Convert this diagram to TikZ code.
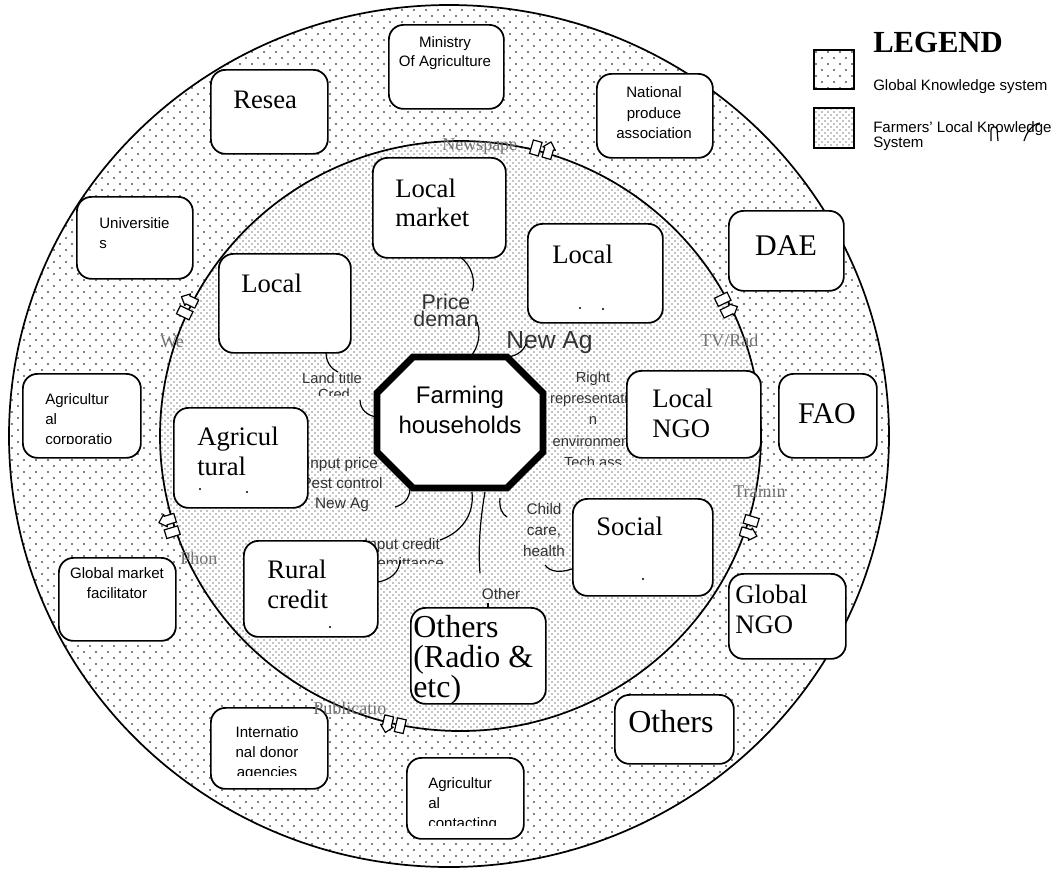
\documentclass[tikz,border=0pt]{standalone}
\usepackage{fontspec}
\setmainfont{Liberation Serif}
\newfontfamily\tms{Liberation Serif}
\newfontfamily\arl{Liberation Sans}
\usetikzlibrary{patterns}
\pgfdeclarepatternformonly{sparsedots}{\pgfqpoint{-1pt}{-1pt}}{\pgfqpoint{10pt}{10pt}}{\pgfqpoint{9pt}{9pt}}{%
  \pgfpathcircle{\pgfqpoint{0pt}{0pt}}{0.6pt}%
  \pgfpathcircle{\pgfqpoint{4.5pt}{4.5pt}}{0.6pt}%
  \pgfusepath{fill}}
\pgfdeclarepatternformonly{densedots}{\pgfqpoint{-1pt}{-1pt}}{\pgfqpoint{5.5pt}{5.5pt}}{\pgfqpoint{4.5pt}{4.5pt}}{%
  \pgfpathcircle{\pgfqpoint{0pt}{0pt}}{0.5pt}%
  \pgfpathcircle{\pgfqpoint{2.25pt}{2.25pt}}{0.5pt}%
  \pgfusepath{fill}}
\tikzset{
  box/.style={draw, line width=1.3pt, rounded corners=11pt, fill=white, inner sep=0pt, anchor=north west},
  ser/.style={font=\tms\fontsize{20}{22}\selectfont, align=left, inner sep=0pt},
  san/.style={font=\arl\fontsize{11.3}{15.2}\selectfont, inner sep=0pt},
  rel/.style={font=\arl\fontsize{11.3}{15.5}\selectfont, text=black!80, inner sep=0pt, align=center},
  mkl/.style={font=\tms\fontsize{13.5}{15}\selectfont, text=black!55, inner sep=0pt, anchor=base west},
  link/.style={line width=0.9pt},
  ring/.style={line width=1.3pt},
  speck/.style={fill=black},
  mk/.pic={
    \draw[line width=0.9pt, fill=white] (-12,-7) rectangle (-3,7);
    \draw[line width=0.9pt, fill=white, line join=round] (1,7) -- (1,-3) -- (-1,-3) -- (5.5,-10) -- (12,-3) -- (10,-3) -- (10,7) -- cycle;
  }
}
\newcommand\bx[5]{\node[box, minimum width={(#4-#2)*0.75pt}, minimum height={(#5-#3)*0.75pt}] (#1) at (#2,#3) {};}
\begin{document}
\lineskiplimit=-30pt
\begin{tikzpicture}[x=0.75pt, y=-0.75pt]
\useasboundingbox (0,0) rectangle (1057,868);
\fill[white] (0,0) rectangle (1057,868);

% knowledge rings
\path[fill=white] (449,436) ellipse [x radius=440, y radius=431];
\path[pattern=sparsedots] (449,436) ellipse [x radius=440, y radius=431];
\draw[ring] (449,436) ellipse [x radius=440, y radius=431];
\path[fill=white] (460.5,436) ellipse [x radius=300.5, y radius=295];
\path[pattern=densedots] (460.5,436) ellipse [x radius=300.5, y radius=295];
\draw[ring] (460.5,436) ellipse [x radius=300.5, y radius=295];

% relation labels
\node[rel, font=\arl\fontsize{16}{13}\selectfont, anchor=north, yshift=12.8pt] (tprice) at (446,309) {\rule{0pt}{12.8pt}Price\\deman};
\node[rel, font=\arl\fontsize{18.5}{20}\selectfont, anchor=base west] (tnewag) at (506,348) {New Ag};
\node[rel, font=\arl\fontsize{11}{15}\selectfont, anchor=base] (tland) at (332,383) {Land title};
\begin{scope}
  \clip (300,386) rectangle (380,395);
  \node[rel, font=\arl\fontsize{11}{15}\selectfont, anchor=base] (tcred) at (334,399) {Cred};
\end{scope}
\begin{scope}
  \clip (530,360) rectangle (660,464);
  \node[rel, font=\arl\fontsize{11}{16}\selectfont, anchor=north, yshift=8.8pt] (tright) at (593,382) {\rule{0pt}{8.8pt}Right\\representatio\\n\\environment\\Tech ass};
\end{scope}
\node[rel, font=\arl\fontsize{11.5}{15}\selectfont, anchor=north, yshift=9.2pt] (tinput) at (342,468) {\rule{0pt}{9.2pt}Input price\\Pest control\\New Ag};
\node[rel, font=\arl\fontsize{11.5}{15}\selectfont, anchor=base] (tcredit) at (402,549) {Input credit};
\begin{scope}
  \clip (360,551) rectangle (460,563);
  \node[rel, font=\arl\fontsize{11.5}{15}\selectfont, anchor=base] (tremit) at (408,568) {remittance};
\end{scope}
\node[rel, font=\arl\fontsize{11.5}{16}\selectfont, anchor=north, yshift=9.2pt] (tchild) at (544,514) {\rule{0pt}{9.2pt}Child\\care,\\health};
\node[rel, font=\arl\fontsize{11.5}{15}\selectfont, anchor=base] (tother) at (501,599) {Other};

% global (outer) boxes
\bx{min}{388}{24}{503}{108}
\node[san, align=center, anchor=north, yshift=9pt, font=\arl\fontsize{11.3}{14.3}\selectfont] (tmin) at (445,47) {\rule{0pt}{9pt}Ministry\\Of Agriculture};
\bx{res}{210}{69}{327}{153}
\node[ser, anchor=base west] (tres) at (233,108) {Resea};
\bx{nat}{596}{73}{712}{157}
\node[san, align=center, anchor=north, yshift=9pt] (tnat) at (654,97.5) {\rule{0pt}{9pt}National\\produce\\association};
\bx{uni}{76}{196}{192}{278}
\node[san, align=left, anchor=north west, yshift=9pt] (tuni) at (99,228) {\rule{0pt}{9pt}Universitie\\s};
\bx{dae}{728}{210}{843}{290}
\node[font=\tms\fontsize{22.5}{24}\selectfont, inner sep=0pt, anchor=base] (tdae) at (786,255) {DAE};
\bx{cor}{22}{373}{140}{457}
\begin{scope}
  \clip (30,380) rectangle (135,443);
  \node[san, align=left, anchor=north west, yshift=9pt] (tcor) at (45,404) {\rule{0pt}{9pt}Agricultur\\al\\corporatio};
\end{scope}
\bx{fao}{778}{373}{876}{457}
\node[font=\tms\fontsize{22.5}{24}\selectfont, inner sep=0pt, anchor=base] (tfao) at (827,423) {FAO};
\bx{gmf}{58}{557}{175}{640}
\node[san, align=center, anchor=north, yshift=9pt] (tgmf) at (117,578) {\rule{0pt}{9pt}Global market\\facilitator};
\bx{gngo}{728}{573}{845}{658}
\node[ser, font=\tms\fontsize{20}{22.5}\selectfont, anchor=north west, yshift=16pt] (tgngo) at (735,603) {\rule{0pt}{16pt}Global\\NGO};
\bx{oto}{614}{694}{733}{763}
\node[font=\tms\fontsize{24}{26}\selectfont, inner sep=0pt, anchor=base west] (toto) at (628,732) {Others};
\bx{don}{210}{707}{327}{788}
\begin{scope}
  \clip (215,712) rectangle (322,775);
  \node[san, align=center, anchor=north, yshift=9pt, font=\arl\fontsize{11.3}{15}\selectfont] (tdon) at (267,737) {\rule{0pt}{9pt}Internatio\\nal donor\\agencies};
\end{scope}
\bx{con}{406}{757}{523}{838}
\begin{scope}
  \clip (411,762) rectangle (518,825);
  \node[san, align=left, anchor=north west, yshift=9pt] (tcon) at (428,788) {\rule{0pt}{9pt}Agricultur\\al\\contacting};
\end{scope}

% local (inner) boxes
\bx{lm}{372}{157}{505}{257}
\node[ser, anchor=north west, yshift=16pt] (tlm) at (395,197) {\rule{0pt}{16pt}Local\\market};
\bx{lr}{527}{223}{662}{322}
\node[ser, anchor=base west] (tlr) at (552,263) {Local};
\fill[speck] (580,308) circle [radius=1.1]; \fill[speck] (603,309) circle [radius=1.1];
\bx{ll}{218}{253}{350}{352}
\node[ser, anchor=base west] (tll) at (241,292) {Local};
\bx{ag}{173}{407}{307}{507}
\node[ser, font=\tms\fontsize{20}{22.5}\selectfont, anchor=north west, yshift=16pt] (tag) at (197,445) {\rule{0pt}{16pt}Agricul\\tural};
\fill[speck] (200,489) circle [radius=1.1]; \fill[speck] (247,492) circle [radius=1.1];
\bx{ngo}{626}{370}{760}{457}
\node[ser, font=\tms\fontsize{20}{22.5}\selectfont, anchor=north west, yshift=16pt] (tngo) at (652,407) {\rule{0pt}{16pt}Local\\NGO};
\bx{soc}{572}{498}{712}{595}
\node[ser, anchor=base west] (tsoc) at (596,535) {Social};
\fill[speck] (643,579) circle [radius=1.1];
\bx{rc}{243}{540}{377}{636}
\node[ser, font=\tms\fontsize{20}{22.5}\selectfont, anchor=north west, yshift=16pt] (trc) at (267,578) {\rule{0pt}{16pt}Rural\\credit};
\fill[speck] (330,627) circle [radius=1.1];
\bx{oth}{410}{607}{545}{703}
\node[ser, font=\tms\fontsize{24}{22.5}\selectfont, anchor=north west, yshift=19.2pt] (toth) at (413,637) {\rule{0pt}{19.2pt}Others\\(Radio \&\\etc)};

% connectors
\coordinate (a1) at (460,257); \coordinate (a2) at (472,291);
\draw[link] (a1) .. controls (472,265) and (476,282) .. (a2);
\coordinate (b1) at (477,322); \coordinate (b2) at (470,357);
\draw[link] (b1) .. controls (482,335) and (477,350) .. (b2);
\coordinate (c1) at (505,357); \coordinate (c2) at (526,344);
\draw[link] (c1) .. controls (515,357) and (523,352) .. (c2);
\coordinate (d1) at (326,352); \coordinate (d2) at (338,372);
\draw[link] (d1) .. controls (326,362) and (331,369) .. (d2);
\coordinate (e1) at (360,400); \coordinate (e2) at (377,417);
\draw[link] (e1) .. controls (360,410) and (368,416) .. (e2);
\coordinate (f1) at (410,488); \coordinate (f2) at (395,507);
\draw[link] (f1) .. controls (410,500) and (402,505) .. (f2);
\coordinate (g1) at (472,492); \coordinate (g2) at (440,540);
\draw[link] (g1) .. controls (475,520) and (455,535) .. (g2);
\coordinate (h1) at (400,560); \coordinate (h2) at (378,582);
\draw[link] (h1) .. controls (400,572) and (390,580) .. (h2);
\coordinate (i1) at (485,492); \coordinate (i2) at (480,573);
\draw[link] (i1) .. controls (480,520) and (478,550) .. (i2);
\coordinate (j1) at (488,603);
\draw[link] (j1) -- (oth.north west -| j1);
\coordinate (k1) at (500,498); \coordinate (k2) at (507,517);
\draw[link] (k1) .. controls (499,508) and (502,514) .. (k2);
\coordinate (l1) at (545,565);
\draw[link] (l1) .. controls (550,572) and (560,573) .. (soc.west |- 0,569);

% farming households
\draw[line width=5.2pt, fill=white] (413,357) -- (507,357) -- (543,393) -- (543,452) -- (507,488) -- (413,488) -- (377,452) -- (377,393) -- cycle;
\node[font=\arl\fontsize{18}{22.5}\selectfont, align=center, anchor=north, yshift=14.4pt, inner sep=0pt] (farm) at (460,403) {\rule{0pt}{14.4pt}Farming\\households};

% channel markers
\pic[rotate=-16] at (543,150) {mk};
\pic[rotate=64] at (188,306) {mk};
\pic[rotate=-64] at (726,306) {mk};
\pic[rotate=107] at (170,525) {mk};
\pic[rotate=-107] at (749,528) {mk};
\pic[rotate=167] at (393,724) {mk};
\node[mkl] (mnews) at (442,150) {Newspape};
\node[mkl] (mweb) at (160,347) {We};
\node[mkl] (mtv) at (700,346) {TV/Rad};
\node[mkl] (mphon) at (180,564) {Phon};
\node[mkl] (mtrain) at (733,497) {Trainin};
\node[mkl] (mpub) at (313,714) {Publicatio};

% legend
\node[font=\tms\bfseries\fontsize{23}{24}\selectfont, inner sep=0pt, anchor=base west] (lgd) at (873,52) {LEGEND};
\node[draw, line width=1.5pt, pattern=sparsedots, minimum width=30pt, minimum height=29.25pt, anchor=north west, inner sep=0pt] (lg1) at (813,49) {};
\node[draw, line width=1.5pt, pattern=densedots, minimum width=30pt, minimum height=30pt, anchor=north west, inner sep=0pt] (lg2) at (813,107) {};
\node[san, anchor=base west] (lgt1) at (873,90) {Global Knowledge system};
\node[san, anchor=base west] (lgt2) at (873,132) {Farmers’ Local Knowledge};
\node[san, anchor=base west] (lgt3) at (873,147) {System};
\draw[line width=0.9pt, fill=white] (991,141) -- (991,130) .. controls (991,126) and (996,126) .. (997,129) -- (998,141);
\coordinate (s1) at (1024,141); \coordinate (s2) at (1040,123);
\draw[line width=0.9pt] (s1) .. controls (1027,131) and (1033,124) .. (s2);
\end{tikzpicture}
\end{document}
